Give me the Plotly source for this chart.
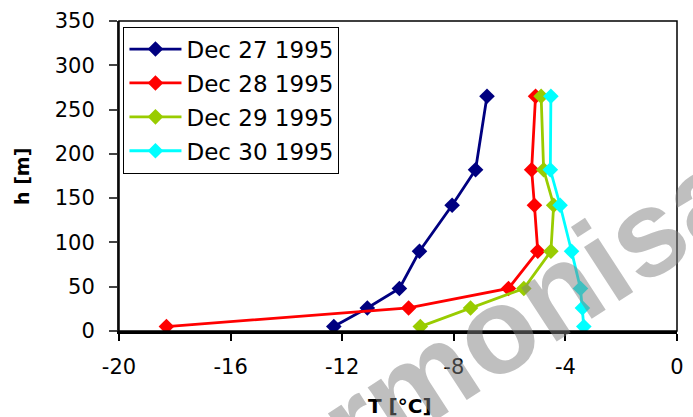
import plotly.graph_objects as go

heights = [5, 26, 48, 90, 142, 182, 265]
dec27 = [-12.3, -11.1, -9.95, -9.23, -8.06, -7.22, -6.81]
dec28 = [-18.3, -9.62, -6.04, -4.99, -5.11, -5.21, -5.07]
dec29 = [-9.2, -7.4, -5.49, -4.52, -4.42, -4.78, -4.87]
dec30 = [-3.34, -3.39, -3.46, -3.78, -4.19, -4.54, -4.52]

series = [
    ("Dec 27 1995", dec27, "#000080"),
    ("Dec 28 1995", dec28, "#FF0000"),
    ("Dec 29 1995", dec29, "#99CC00"),
    ("Dec 30 1995", dec30, "#00FFFF"),
]

x_ticks = [-20, -16, -12, -8, -4, 0]
y_ticks = [0, 50, 100, 150, 200, 250, 300, 350]

FONT = "DejaVu Sans"

fig = go.Figure()
for name, xs, col in series:
    fig.add_trace(go.Scatter(
        x=xs, y=heights, name=name, mode="lines+markers",
        line=dict(color=col, width=2.8),
        marker=dict(symbol="diamond", size=12, color=col),
        legendgroup=name,
    ))

fig.update_layout(
    width=693, height=417,
    margin=dict(l=119, r=9, t=18, b=86),
    paper_bgcolor="white", plot_bgcolor="white",
    showlegend=True,
    legend=dict(
        x=0.008, y=0.982, xanchor="left", yanchor="top",
        bgcolor="white", bordercolor="black", borderwidth=1,
        font=dict(family=FONT, size=23, color="black"),
        traceorder="grouped", tracegroupgap=1,
        itemwidth=52,
    ),
    xaxis=dict(
        range=[-20, 0], tickvals=x_ticks, ticktext=[str(v) for v in x_ticks],
        showgrid=False, zeroline=False,
        showline=True, linecolor="black", linewidth=2.5,
        ticks="outside", ticklen=7, tickwidth=1.5, tickcolor="black",
        tickfont=dict(family=FONT, size=21, color="black"),
        ticklabelstandoff=8,
    ),
    yaxis=dict(
        range=[0, 350], tickvals=y_ticks, ticktext=[str(v) for v in y_ticks],
        showgrid=False, zeroline=False,
        showline=True, linecolor="#222222", linewidth=2,
        ticks="outside", ticklen=8, tickwidth=1.5, tickcolor="#444444",
        tickfont=dict(family=FONT, size=21, color="black"),
        ticklabelstandoff=10,
    ),
    shapes=[dict(type="rect", xref="paper", yref="paper", x0=0, y0=0, x1=1, y1=1,
                 line=dict(color="black", width=1.5), fillcolor="rgba(0,0,0,0)")],
    annotations=[
        dict(text="<b>T [°C]</b>", xref="paper", yref="paper", x=0.503, y=-0.243,
             xanchor="center", yanchor="middle", showarrow=False,
             font=dict(family=FONT, size=20, color="black")),
        dict(text="<b>h [m]</b>", xref="paper", yref="paper", x=-0.175, y=0.498,
             xanchor="center", yanchor="middle", showarrow=False, textangle=-90,
             font=dict(family=FONT, size=19, color="black")),
        dict(text="<b>rmonisa</b>", xref="paper", yref="paper", x=0.742, y=0.077,
             xanchor="center", yanchor="middle", showarrow=False, textangle=-33,
             font=dict(family="Liberation Sans", size=122, color="rgba(128,128,128,0.5)")),
    ],
)

fig.write_html("out.html")
